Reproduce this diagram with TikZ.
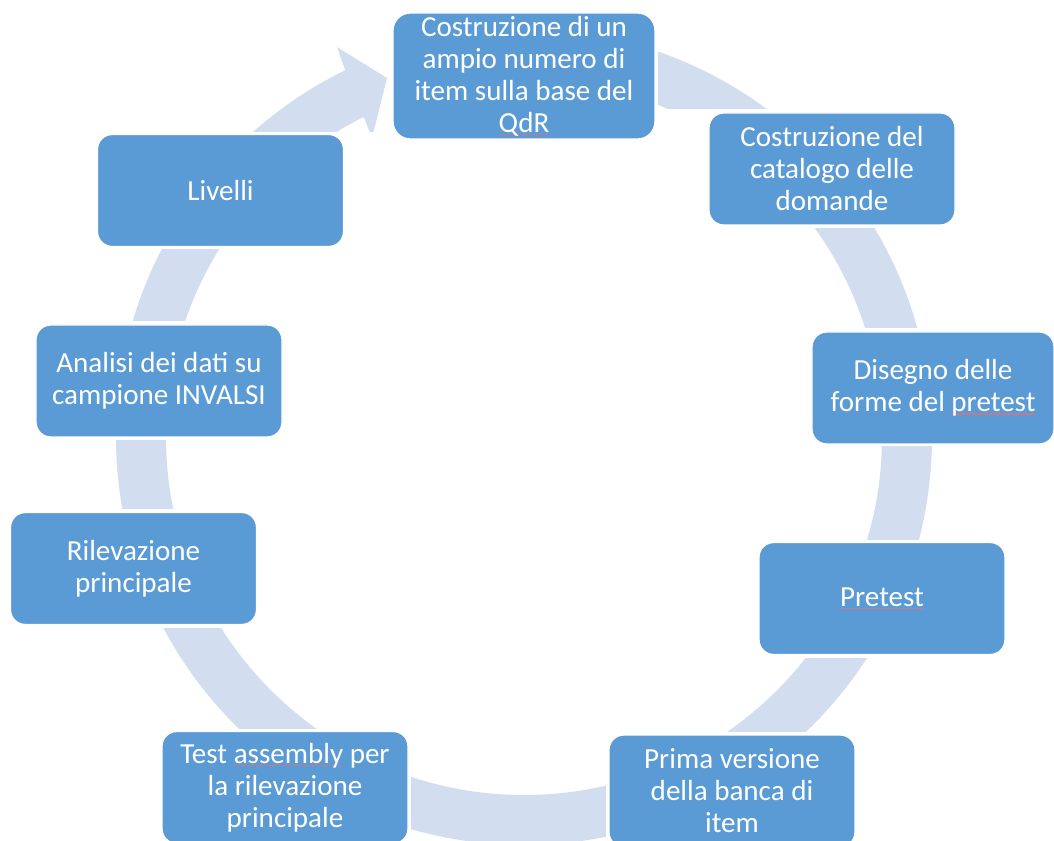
\documentclass[tikz,border=0pt]{standalone}
\usepackage{fontspec}
\setmainfont{Carlito}
\usetikzlibrary{calc}
\definecolor{boxblue}{HTML}{5B9BD5}
\definecolor{ringblue}{HTML}{D2DEEF}
\definecolor{squig}{HTML}{C27A8E}
\newlength\spellw
\newcommand\spellmark[1]{\settowidth{\spellw}{#1}\rlap{\color{squig}\rule[-2.2pt]{\spellw}{1pt}}#1}
\tikzset{
  stepbox/.style={rounded corners=11pt, fill=boxblue, draw=white, line width=1pt,
    text=white, align=center, inner sep=0pt,
    font=\fontsize{21.8}{24}\selectfont,
    minimum width=184.5pt, minimum height=84pt},
  ringpart/.style={fill=ringblue, even odd rule}
}
\begin{document}
\begin{tikzpicture}[x=0.75pt, y=-0.75pt]
\path[use as bounding box, clip] (0,0) rectangle (1054,841);
\coordinate (C) at (524,437);
% ring segments
\foreach \xa/\ya/\xb/\yb in {658/0/1054/109, 524/229/1054/328, 524/447/1054/540, 524/658/1054/731,
  411/437/606/841, 0/628/524/728, 0/441/524/509, 0/250/524/321}{
  \begin{scope}
    \clip (\xa,\ya) rectangle (\xb,\yb);
    \fill[ringpart] (C) circle[radius=306pt] (C) circle[radius=268.5pt];
  \end{scope}
}
% arrow segment
\begin{scope}
  \clip (0,0) rectangle (524,132);
  \fill[ringblue] ($(C)+(116:306pt)$) arc[start angle=116, end angle=145, radius=306pt]
    -- ($(C)+(145:268.5pt)$) arc[start angle=145, end angle=116.6, radius=268.5pt]
    -- (372,138) -- (387,78) -- (337,47) -- cycle;
\end{scope}
% boxes
\node[stepbox, rounded corners=13pt, minimum width=196.5pt, minimum height=94.5pt] (n1) at (524,76)
  {Costruzione di un\\ampio numero di\\item sulla base del\\\spellmark{QdR}};
\node[stepbox] (n2) at (832,169) {Costruzione del\\catalogo delle\\domande};
\node[stepbox, minimum width=181.5pt] (n3) at (933,388) {Disegno delle\\forme del \spellmark{pretest}};
\node[stepbox] (n4) at (882,598.5) {\spellmark{Pretest}};
\node[stepbox] (n5) at (732,791) {Prima versione\\della banca di\\item};
\node[stepbox] (n6) at (285,787.5) {Test \spellmark{assembly} per\\la rilevazione\\principale};
\node[stepbox] (n7) at (133.5,568.5) {Rilevazione\\principale};
\node[stepbox] (n8) at (159,381) {Analisi dei dati su\\campione INVALSI};
\node[stepbox] (n9) at (220.5,190.5) {Livelli};
\end{tikzpicture}
\end{document}
